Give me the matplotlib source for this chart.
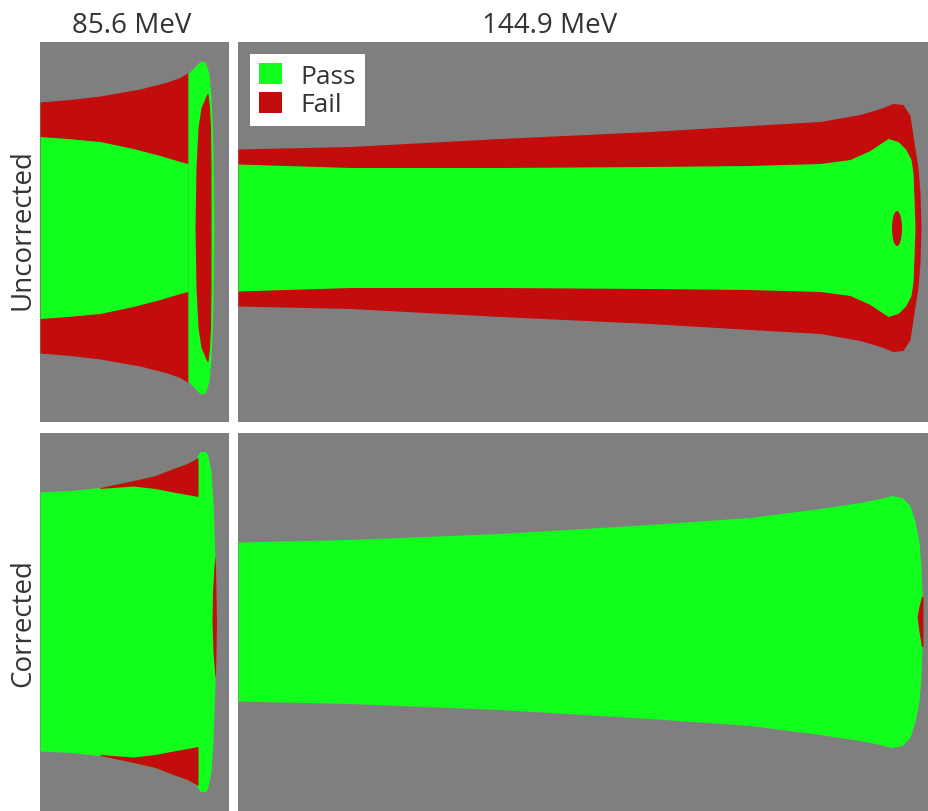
import numpy as np
import matplotlib
matplotlib.use('Agg')
import matplotlib.pyplot as plt
from matplotlib.patches import Patch, Ellipse

plt.rcParams['font.family'] = ['Open Sans', 'DejaVu Sans']

PASS = '#12FF1E'
FAIL = '#C30C0C'
BG = '#7F7F7F'
TXT = '#333333'

energies = ['85.6 MeV', '144.9 MeV']
rows = ['Uncorrected', 'Corrected']
legend_labels = ['Pass', 'Fail']

# ---------------- 85.6 MeV, uncorrected (depth / lateral half-width) -------------
tl_fail_depth = [0, 30, 60, 100, 127, 140, 148]
tl_fail_hw = [125.5, 128, 131.5, 138.5, 145.5, 150, 155]
tl_pass_depth = [0, 27, 60, 93, 120, 140, 148]
tl_pass_hw = [91, 89, 86, 79, 72, 66, 64]
tl_lens_lat = [-166, -160, -154, -130, -100, -50, 0, 50, 100, 130, 154, 160, 166]
tl_lens_left = [160, 154, 148, 148, 148, 148, 148, 148, 148, 148, 148, 154, 160]
tl_lens_right = [165, 167, 169, 171, 172.5, 173.5, 174, 173.5, 172.5, 171, 169, 167, 165]
tl_core_lat = [-134, -120, -100, -60, 0, 60, 100, 120, 134]
tl_core_left = [167, 161, 158, 156, 155, 156, 158, 161, 167]
tl_core_right = [168, 169.5, 170.5, 171, 171, 171, 170.5, 169.5, 168]

# ---------------- 144.9 MeV, uncorrected ----------------------------------------
tr_fail_depth = [0, 112, 262, 412, 512, 582, 622, 642, 655, 665, 672, 676, 680, 682, 683]
tr_fail_hw = [78.5, 81, 89, 96, 102, 106, 113, 119, 124, 123, 112, 85, 60, 35, 0]
tr_pass_depth = [0, 112, 262, 412, 512, 582, 612, 632, 650, 660, 668, 673, 675, 676, 677]
tr_pass_hw = [63.5, 60, 60, 61, 62, 64, 68, 77, 89, 86, 78, 68, 55, 30, 0]
tr_hole = (659, -1, 10, 35)  # depth, lateral, width, height

# ---------------- 85.6 MeV, corrected ------------------------------------------
bl_pass_depth = [0, 30, 60, 93, 115, 133, 147, 158]
bl_pass_hw = [129.5, 131, 134, 141, 146, 153, 158, 164]
bl_fail_depth = [60, 93, 115, 133, 147, 158]
bl_fail_inner = [133, 135.5, 133, 129.5, 127, 125]
bl_fail_outer = [134, 141, 146, 153, 158, 164]
bl_lens_lat = [-170, -165, -150, -120, -60, 0, 60, 120, 150, 165, 170]
bl_lens_left = [160, 157, 157, 157, 157, 157, 157, 157, 157, 157, 160]
bl_lens_right = [166, 168, 171, 173, 175, 176, 175, 173, 171, 168, 166]
bl_sliver_lat = [-55, -30, 0, 30, 55, 65]
bl_sliver_left = [175, 173, 172, 172.5, 174, 175]
bl_sliver_right = [175.5, 176, 176.5, 176, 175.5, 175.2]

# ---------------- 144.9 MeV, corrected -----------------------------------------
br_pass_depth = [0, 112, 262, 412, 512, 582, 622, 642, 654, 664, 672, 677, 681, 683, 685]
br_pass_hw = [79.5, 82, 88, 97, 104, 113, 119, 123, 126, 124, 116, 100, 80, 55, 0]
br_spot_lat = [-25, -10, 5, 15, 25]
br_spot_left = [683.5, 681, 679, 681, 683.5]
br_spot_right = [685, 685, 685, 685, 685]

W, H = 929, 812
fig = plt.figure(figsize=(W / 100, H / 100), dpi=100)
fig.patch.set_facecolor('white')


def make_ax(x0, y0, x1, y1, ylo, yhi):
    ax = fig.add_axes([x0 / W, 1 - y1 / H, (x1 - x0) / W, (y1 - y0) / H])
    ax.set_facecolor(BG)
    ax.set_xlim(0, x1 - x0)
    ax.set_ylim(ylo, yhi)
    ax.set_xticks([])
    ax.set_yticks([])
    for s in ax.spines.values():
        s.set_visible(False)
    return ax


def band(ax, d, hw, color):
    hw = np.asarray(hw, float)
    ax.fill_between(d, -hw, hw, color=color, lw=0)


def lens(ax, lat, left, right, color):
    ax.fill_betweenx(lat, left, right, color=color, lw=0)


ax_tl = make_ax(40, 43, 229, 423, -194.5, 185.5)
ax_tr = make_ax(238, 43, 929, 423, -194.5, 185.5)
ax_bl = make_ax(40, 434, 229, 812, -189.5, 188.5)
ax_br = make_ax(238, 434, 929, 812, -189.5, 188.5)

# top-left
band(ax_tl, tl_fail_depth, tl_fail_hw, FAIL)
band(ax_tl, tl_pass_depth, tl_pass_hw, PASS)
lens(ax_tl, tl_lens_lat, tl_lens_left, tl_lens_right, PASS)
lens(ax_tl, tl_core_lat, tl_core_left, tl_core_right, FAIL)

# top-right
band(ax_tr, tr_fail_depth, tr_fail_hw, FAIL)
band(ax_tr, tr_pass_depth, tr_pass_hw, PASS)
d, l, w, h = tr_hole
ax_tr.add_patch(Ellipse((d, l), w, h, color=FAIL, lw=0))

# bottom-left
band(ax_bl, bl_pass_depth, bl_pass_hw, PASS)
lens(ax_bl, bl_lens_lat, bl_lens_left, bl_lens_right, PASS)
inner = np.asarray(bl_fail_inner, float)
outer = np.asarray(bl_fail_outer, float)
ax_bl.fill_between(bl_fail_depth, inner, outer, color=FAIL, lw=0)
ax_bl.fill_between(bl_fail_depth, -outer, -inner, color=FAIL, lw=0)
lens(ax_bl, bl_sliver_lat, bl_sliver_left, bl_sliver_right, FAIL)

# bottom-right
band(ax_br, br_pass_depth, br_pass_hw, PASS)
lens(ax_br, br_spot_lat, br_spot_left, br_spot_right, FAIL)

# legend
handles = [Patch(facecolor=PASS, edgecolor='none', label=legend_labels[0]),
           Patch(facecolor=FAIL, edgecolor='none', label=legend_labels[1])]
ax_tr.legend(handles=handles, loc='upper left',
             bbox_to_anchor=((250 - 238) / 691, (423 - 55) / 380),
             frameon=True, fancybox=False, framealpha=1, edgecolor='none',
             facecolor='white', fontsize=19, labelcolor=TXT,
             handlelength=0.85, handleheight=0.85, handletextpad=0.7,
             labelspacing=0.1, borderpad=0.35, borderaxespad=0)

# titles and row labels
fig.text(132 / W, 1 - 33 / H, energies[0], ha='center', va='baseline',
         fontsize=20, color=TXT)
fig.text(550 / W, 1 - 33 / H, energies[1], ha='center', va='baseline',
         fontsize=20, color=TXT)
fig.text(23 / W, 1 - 230 / H, rows[0], rotation=90, ha='center', va='center',
         fontsize=20, color=TXT)
fig.text(23 / W, 1 - 623 / H, rows[1], rotation=90, ha='center', va='center',
         fontsize=20, color=TXT)

fig.savefig('out.png', dpi=100, facecolor='white')
